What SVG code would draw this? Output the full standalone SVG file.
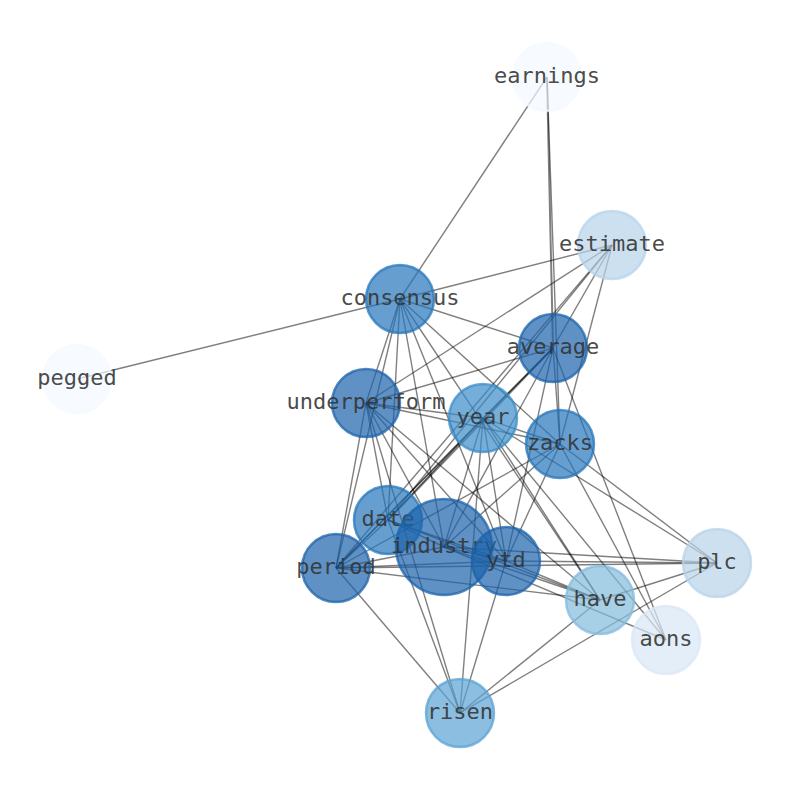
<svg xmlns="http://www.w3.org/2000/svg" width="794" height="790" viewBox="0 0 794 790">
<style>
.e{stroke:#000;stroke-opacity:0.5;stroke-width:1.4;fill:none}
.t{stroke-width:2}
.n circle{fill-opacity:0.7;stroke-opacity:0.75;stroke-width:2.5}
.n text{font-family:"DejaVu Sans Mono",monospace;font-size:22px;fill:#333;fill-opacity:0.9;text-anchor:middle}
.c1{fill:#f4f9ff;stroke:#f4f9ff}
.c2{fill:#d9e7f5;stroke:#d9e7f5}
.c3{fill:#b7d3ea;stroke:#b7d3ea}
.c4{fill:#82bbdc;stroke:#82bbdc}
.c5{fill:#5aa3d3;stroke:#5aa3d3}
.c6{fill:#3a8cc8;stroke:#3a8cc8}
.c7{fill:#2576ba;stroke:#2576ba}
.c8{fill:#1b63ab;stroke:#1b63ab}
</style>
<rect width="794" height="790" fill="#fff"/>
<g id="edges">
<line class="e" x1="547" y1="77" x2="400" y2="299"/>
<line class="e t" x1="547" y1="77" x2="553" y2="348"/>
<line class="e" x1="547" y1="77" x2="560" y2="444"/>
<line class="e" x1="77" y1="379" x2="400" y2="299"/>
<line class="e" x1="400" y1="299" x2="612" y2="245"/>
<line class="e" x1="400" y1="299" x2="553" y2="348"/>
<line class="e" x1="400" y1="299" x2="366" y2="403"/>
<line class="e" x1="400" y1="299" x2="388" y2="520"/>
<line class="e" x1="400" y1="299" x2="336" y2="568"/>
<line class="e" x1="400" y1="299" x2="444" y2="547"/>
<line class="e" x1="400" y1="299" x2="560" y2="444"/>
<line class="e" x1="400" y1="299" x2="600" y2="600"/>
<line class="e" x1="400" y1="299" x2="506" y2="561"/>
<line class="e" x1="612" y1="245" x2="366" y2="403"/>
<line class="e" x1="612" y1="245" x2="553" y2="348"/>
<line class="e" x1="612" y1="245" x2="560" y2="444"/>
<line class="e" x1="612" y1="245" x2="388" y2="520"/>
<line class="e" x1="612" y1="245" x2="336" y2="568"/>
<line class="e t" x1="553" y1="348" x2="388" y2="520"/>
<line class="e" x1="553" y1="348" x2="336" y2="568"/>
<line class="e" x1="553" y1="348" x2="444" y2="547"/>
<line class="e" x1="553" y1="348" x2="560" y2="444"/>
<line class="e" x1="553" y1="348" x2="366" y2="403"/>
<line class="e" x1="553" y1="348" x2="506" y2="561"/>
<line class="e" x1="553" y1="348" x2="666" y2="640"/>
<line class="e" x1="553" y1="348" x2="483" y2="418"/>
<line class="e" x1="366" y1="403" x2="483" y2="418"/>
<line class="e" x1="366" y1="403" x2="560" y2="444"/>
<line class="e" x1="366" y1="403" x2="388" y2="520"/>
<line class="e" x1="366" y1="403" x2="336" y2="568"/>
<line class="e" x1="366" y1="403" x2="444" y2="547"/>
<line class="e" x1="366" y1="403" x2="506" y2="561"/>
<line class="e" x1="366" y1="403" x2="460" y2="713"/>
<line class="e" x1="366" y1="403" x2="600" y2="600"/>
<line class="e" x1="483" y1="418" x2="560" y2="444"/>
<line class="e" x1="483" y1="418" x2="388" y2="520"/>
<line class="e" x1="483" y1="418" x2="336" y2="568"/>
<line class="e" x1="483" y1="418" x2="444" y2="547"/>
<line class="e" x1="483" y1="418" x2="506" y2="561"/>
<line class="e" x1="483" y1="418" x2="460" y2="713"/>
<line class="e" x1="483" y1="418" x2="600" y2="600"/>
<line class="e" x1="483" y1="418" x2="666" y2="640"/>
<line class="e" x1="483" y1="418" x2="717" y2="563"/>
<line class="e" x1="560" y1="444" x2="444" y2="547"/>
<line class="e" x1="560" y1="444" x2="336" y2="568"/>
<line class="e" x1="560" y1="444" x2="506" y2="561"/>
<line class="e" x1="560" y1="444" x2="666" y2="640"/>
<line class="e" x1="560" y1="444" x2="717" y2="563"/>
<line class="e" x1="388" y1="520" x2="444" y2="547"/>
<line class="e" x1="388" y1="520" x2="336" y2="568"/>
<line class="e" x1="388" y1="520" x2="506" y2="561"/>
<line class="e" x1="388" y1="520" x2="460" y2="713"/>
<line class="e" x1="388" y1="520" x2="600" y2="600"/>
<line class="e" x1="444" y1="547" x2="336" y2="568"/>
<line class="e" x1="444" y1="547" x2="506" y2="561"/>
<line class="e" x1="444" y1="547" x2="600" y2="600"/>
<line class="e" x1="444" y1="547" x2="717" y2="563"/>
<line class="e" x1="444" y1="547" x2="666" y2="640"/>
<line class="e" x1="506" y1="561" x2="336" y2="568"/>
<line class="e" x1="506" y1="561" x2="717" y2="563"/>
<line class="e" x1="506" y1="561" x2="600" y2="600"/>
<line class="e" x1="506" y1="561" x2="460" y2="713"/>
<line class="e" x1="336" y1="568" x2="717" y2="563"/>
<line class="e" x1="336" y1="568" x2="600" y2="600"/>
<line class="e" x1="336" y1="568" x2="460" y2="713"/>
<line class="e" x1="600" y1="600" x2="717" y2="563"/>
<line class="e" x1="460" y1="713" x2="600" y2="600"/>
<line class="e" x1="460" y1="713" x2="717" y2="563"/>
</g>
<g id="earnings" class="n"><circle class="c1" cx="547" cy="77" r="34"/><text x="547" y="83">earnings</text></g>
<g id="estimate" class="n"><circle class="c3" cx="612" cy="245" r="34"/><text x="612" y="251">estimate</text></g>
<g id="consensus" class="n"><circle class="c7" cx="400" cy="299" r="34"/><text x="400" y="305">consensus</text></g>
<g id="average" class="n"><circle class="c8" cx="553" cy="348" r="34"/><text x="553" y="354">average</text></g>
<g id="pegged" class="n"><circle class="c1" cx="77" cy="379" r="34"/><text x="77" y="385">pegged</text></g>
<g id="underperform" class="n"><circle class="c8" cx="366" cy="403" r="34"/><text x="366" y="409">underperform</text></g>
<g id="year" class="n"><circle class="c6" cx="483" cy="418" r="34"/><text x="483" y="424">year</text></g>
<g id="zacks" class="n"><circle class="c7" cx="560" cy="444" r="34"/><text x="560" y="450">zacks</text></g>
<g id="date" class="n"><circle class="c7" cx="388" cy="520" r="34"/><text x="388" y="526">date</text></g>
<g id="industry" class="n"><circle class="c8" cx="444" cy="547" r="48"/><text x="444" y="553">industry</text></g>
<g id="ytd" class="n"><circle class="c8" cx="506" cy="561" r="34"/><text x="506" y="567">ytd</text></g>
<g id="period" class="n"><circle class="c8" cx="336" cy="568" r="34"/><text x="336" y="574">period</text></g>
<g id="plc" class="n"><circle class="c3" cx="717" cy="563" r="34"/><text x="717" y="569">plc</text></g>
<g id="have" class="n"><circle class="c4" cx="600" cy="600" r="34"/><text x="600" y="606">have</text></g>
<g id="aons" class="n"><circle class="c2" cx="666" cy="640" r="34"/><text x="666" y="646">aons</text></g>
<g id="risen" class="n"><circle class="c5" cx="460" cy="713" r="34"/><text x="460" y="719">risen</text></g>
</svg>
